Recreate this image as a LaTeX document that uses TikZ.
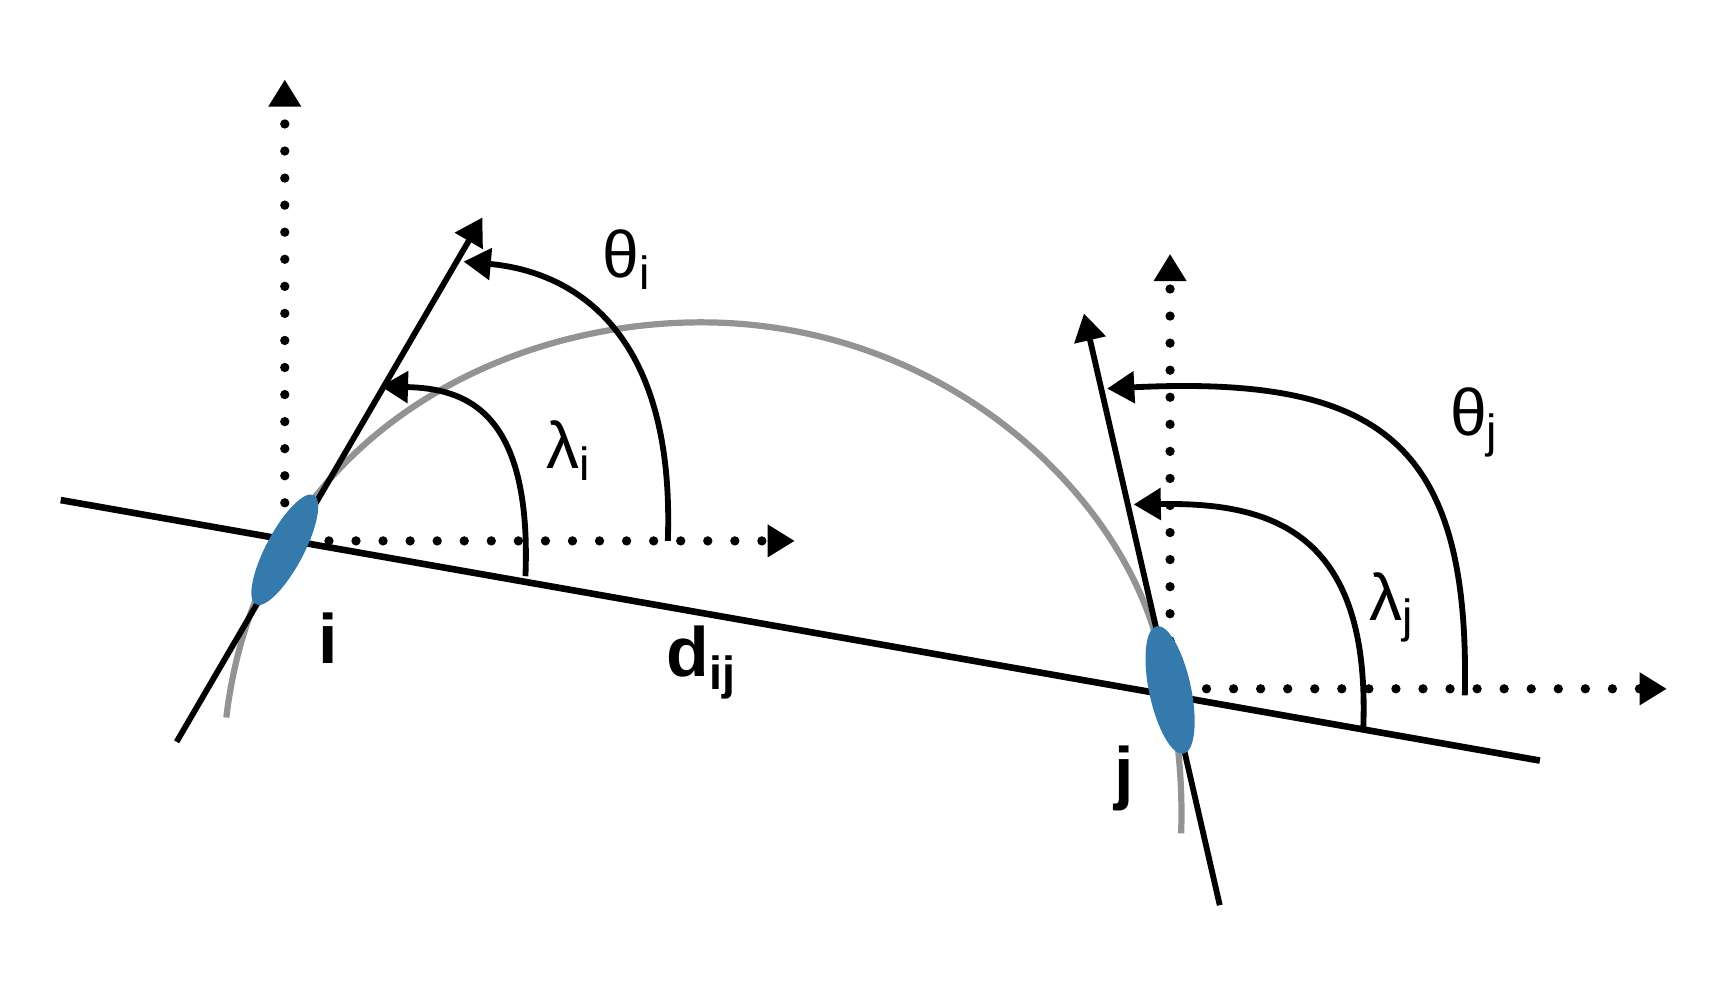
\documentclass[tikz,border=0pt]{standalone}
\usepackage{fontspec}
\setmainfont{Liberation Sans}
\usetikzlibrary{arrows.meta}
\definecolor{blobblue}{RGB}{52,122,172}
\tikzset{
  axis/.style={line width=2.4pt, line cap=round, dash pattern=on 0pt off 0.245cm, -{Triangle[length=7pt,width=8pt]}},
  ray/.style={line width=1.5pt, -{Triangle[length=7pt,width=8pt]}},
  angarc/.style={line width=1.5pt, -{Triangle[length=7pt,width=8pt]}},
  lbl/.style={font=\fontsize{17pt}{19pt}\selectfont},
  bold/.style={font=\fontsize{18pt}{20pt}\selectfont\bfseries}
}
\newcommand{\sub}[1]{\raisebox{-0.35ex}{\fontsize{12pt}{12pt}\selectfont #1}}
\begin{document}
\begin{tikzpicture}[x=0.01cm,y=-0.01cm]
  \useasboundingbox (0,0) rectangle (1560,893);
  % Gray path
  \draw[gray!85, line width=1.6pt] (205,650) .. controls (235,400) and (450,292) .. (635,292)
    .. controls (850,292) and (1010,440) .. (1048,580) .. controls (1065,640) and (1072,700) .. (1070,755);
  % Axes at i
  \draw[axis] (258,480) -- (258,72);
  \draw[axis] (298,490) -- (720,490);
  % Axes at j
  \draw[axis] (1060,605) -- (1060,230);
  \draw[axis] (1093,624) -- (1510,624);
  % Line between i and j
  \draw[line width=1.7pt] (55,453) -- (1395,689);
  % Directions
  \draw[ray] (160,672) -- (437,197);
  \draw[ray] (1105,820) -- (982,284);
  % Particles
  \fill[blobblue] (258,498) ellipse [x radius=17, y radius=56, rotate=-28];
  \fill[blobblue] (1060,625) ellipse [x radius=19, y radius=59, rotate=12];
  % Angles
  \draw[angarc] (476,522) .. controls (482,370) and (420,352) .. (345,350);
  \draw[angarc] (605,490) .. controls (612,290) and (510,245) .. (420,237);
  \draw[angarc] (1235,660) .. controls (1242,480) and (1150,455) .. (1027,457);
  \draw[angarc] (1327,630) .. controls (1332,400) and (1250,340) .. (1003,352);
  % Labels
  \node[lbl] (thi) at (567,235) {θ\sub{i}};
  \node[lbl] (lai) at (515,408) {λ\sub{i}};
  \node[lbl] (thj) at (1335,383) {θ\sub{j}};
  \node[lbl] (laj) at (1260,550) {λ\sub{j}};
  \node[bold] (ni) at (297,578) {i};
  \node[bold] (nj) at (1018,705) {j};
  \node[bold] (dij) at (635,600) {d\sub{\bfseries ij}};
\end{tikzpicture}
\end{document}
